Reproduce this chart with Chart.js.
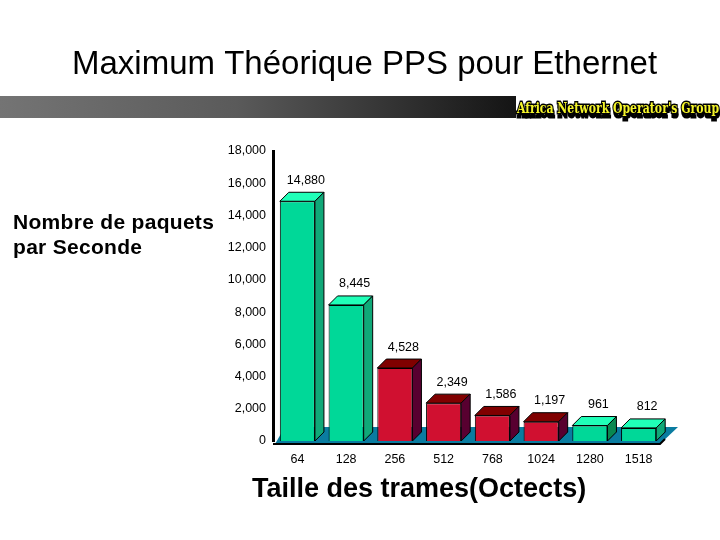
<!DOCTYPE html>
<html><head><meta charset="utf-8">
<style>html,body{margin:0;padding:0;background:#fff}canvas{display:block}</style>
<script src="https://cdn.jsdelivr.net/npm/chart.js@4"></script></head>
<body><div style="width:720px;height:540px"><canvas id="c" width="720" height="540"></canvas></div>
<script>
const categories = ["64","128","256","512","768","1024","1280","1518"];
const values = [14880,8445,4528,2349,1586,1197,961,812];
const frontColors = ["#00D898","#00D898","#D01030","#D01030","#D01030","#D01030","#00D898","#00D898"];
const topColors = ["#20FFB8","#20FFB8","#800000","#800000","#800000","#800000","#20FFB8","#20FFB8"];
const sideColors = ["#10A878","#10A878","#580030","#580030","#580030","#580030","#088850","#10A878"];
const titleText = "Maximum Théorique PPS pour Ethernet";
const yTitleLines = ["Nombre de paquets","par Seconde"];
const xTitleText = "Taille des trames(Octects)";
const logoText = "Africa Network Operator's Group";
const FONT = '"Liberation Sans", Arial, sans-serif';
const DEPTH = 9;

const scene = {
  id:'scene',
  beforeDraw(chart){
    const g = chart.ctx;
    g.save();
    g.fillStyle='#fff'; g.fillRect(0,0,720,540);
    const grad = g.createLinearGradient(0,0,516,0);
    grad.addColorStop(0,'#747474'); grad.addColorStop(0.46,'#5a5a5a'); grad.addColorStop(1,'#141414');
    g.fillStyle=grad; g.fillRect(0,96,516,22);
    g.fillStyle='#000'; g.textBaseline='alphabetic';
    g.font='33px '+FONT; g.textAlign='left';
    g.fillText(titleText,72,74);
    g.restore();
  },
  beforeDatasetsDraw(chart){
    const g = chart.ctx, a = chart.chartArea;
    g.save();
    // floor
    g.fillStyle='#0A7CA0';
    g.beginPath();
    g.moveTo(a.left+2,a.bottom+3);
    g.lineTo(a.left+12,a.bottom-14);
    g.lineTo(a.right+15,a.bottom-14);
    g.lineTo(a.right-3,a.bottom+3);
    g.closePath(); g.fill();
    g.strokeStyle='#000'; g.lineWidth=2;
    g.beginPath(); g.moveTo(a.left,a.bottom+3); g.lineTo(a.right-3,a.bottom+3); g.lineTo(a.right+2,a.bottom-2); g.stroke();
    // bar depth faces
    g.lineWidth=1; g.strokeStyle='#000';
    chart.getDatasetMeta(0).data.forEach((b,i)=>{
      const l=b.x-b.width/2, r=b.x+b.width/2, t=b.y, bt=b.base;
      g.fillStyle=topColors[i];
      g.beginPath(); g.moveTo(l,t); g.lineTo(l+DEPTH,t-DEPTH); g.lineTo(r+DEPTH,t-DEPTH); g.lineTo(r,t); g.closePath(); g.fill(); g.stroke();
      g.fillStyle=sideColors[i];
      g.beginPath(); g.moveTo(r,t); g.lineTo(r+DEPTH,t-DEPTH); g.lineTo(r+DEPTH,bt-DEPTH); g.lineTo(r,bt); g.closePath(); g.fill(); g.stroke();
    });
    g.restore();
  },
  afterDraw(chart){
    const g = chart.ctx;
    g.save();
    g.textBaseline='alphabetic';
    // value labels
    g.fillStyle='#000'; g.font='12.5px '+FONT; g.textAlign='center';
    chart.getDatasetMeta(0).data.forEach((b,i)=>{
      g.fillText(values[i].toLocaleString('en-US'),b.x+DEPTH-0.5,b.y-DEPTH-8.5);
    });
    // axis titles
    g.textAlign='left'; g.font='bold 21px '+FONT; g.letterSpacing='0.3px';
    g.fillText(yTitleLines[0],13,229);
    g.fillText(yTitleLines[1],13,254);
    g.letterSpacing='0px';
    g.font='bold 27px '+FONT; 
    g.fillText(xTitleText,252,497);
    // logo
    g.font='bold 15px "DejaVu Serif", serif';
    const w=g.measureText(logoText).width, sx=202/w;
    g.translate(517,113); g.scale(sx,1);
    g.fillStyle='#000'; g.strokeStyle='#000'; g.lineWidth=3;
    g.strokeText(logoText,1,4); g.strokeText(logoText,0,0);
    g.fillStyle='#F4F42A'; g.fillText(logoText,0,0);
    g.restore();
  }
};

new Chart(document.getElementById('c'),{
  type:'bar',
  data:{labels:categories,datasets:[{data:values,backgroundColor:frontColors,borderColor:'#000',borderWidth:1,barPercentage:0.8,categoryPercentage:0.9}]},
  options:{
    responsive:false,animation:false,devicePixelRatio:1,
    layout:{padding:{top:151,bottom:0,left:0,right:57}},
    plugins:{legend:{display:false},tooltip:{enabled:false},title:{display:false}},
    scales:{
      x:{grid:{display:false,drawTicks:false},border:{display:false},
         afterFit(s){s.height=99;},
         ticks:{color:'#000',font:{size:12.5,family:FONT},padding:11,maxRotation:0,align:'center'}},
      y:{min:0,max:18000,grid:{display:false,drawTicks:false},border:{display:true,color:'#000',width:3},
         afterFit(s){s.width=273;},
         ticks:{stepSize:2000,color:'#000',font:{size:12.5,family:FONT},padding:7,callback:v=>v.toLocaleString('en-US')}}
    }
  },
  plugins:[scene]
});
</script></body></html>
